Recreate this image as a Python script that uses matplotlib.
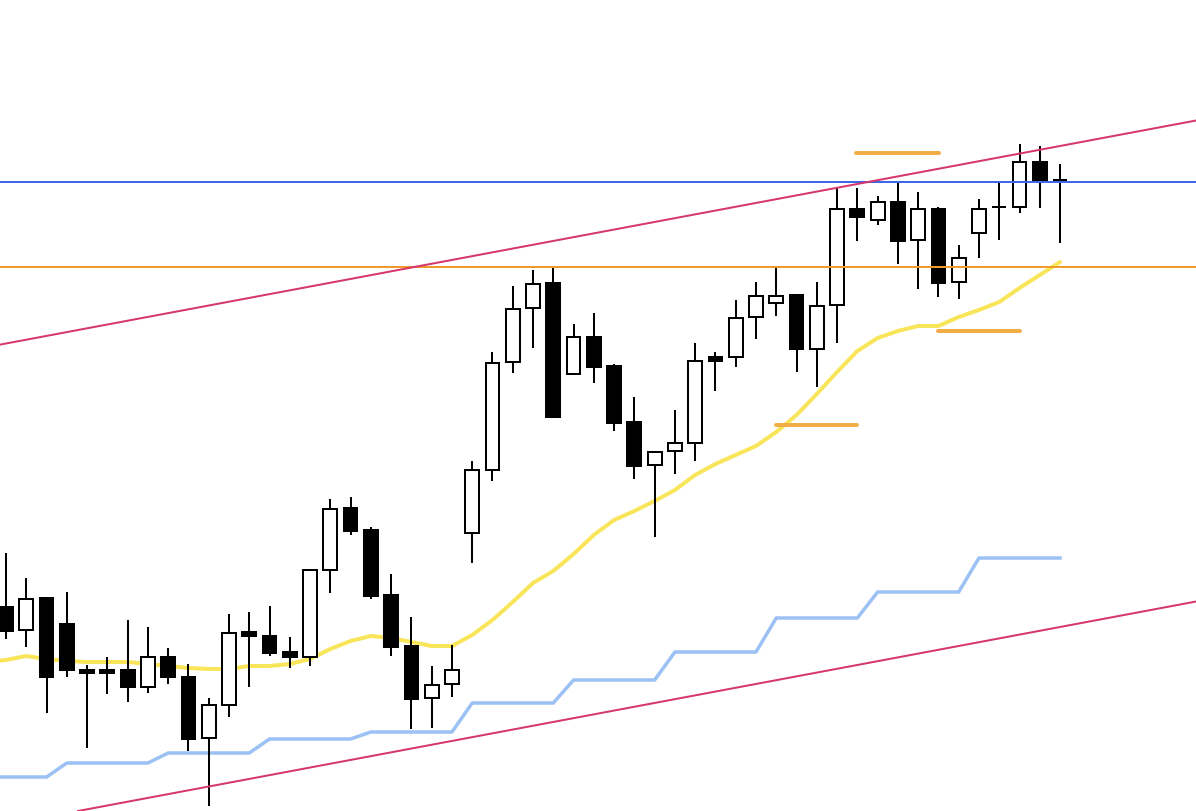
import numpy as np
import matplotlib
matplotlib.use("Agg")
import matplotlib.pyplot as plt

# candle levels (vertical axis runs downward, like a screen)
opens = [607, 630, 598, 624, 670, 670, 670, 687, 657, 677,
         738, 705, 632, 636, 652, 657, 570, 508, 530, 595,
         646, 698, 684, 533, 470, 362, 308, 283, 374, 337,
         366, 422, 465, 451, 443, 357, 357, 317, 303, 295,
         349, 305, 209, 220, 202, 240, 209, 282, 233, 207,
         207, 162, 180.5]
highs = [553, 578, 597, 592, 665, 657, 620, 627, 648, 664,
         698, 614, 612, 606, 637, 569, 499, 497, 527, 574,
         617, 666, 645, 461, 352, 286, 270, 268, 324, 313,
         364, 397, 451, 410, 343, 352, 300, 282, 268, 295,
         282, 187, 188, 196, 183, 192, 207, 245, 199, 182,
         144, 146, 164]
lows = [639, 647, 713, 677, 748, 694, 702, 693, 684, 751,
        806, 717, 687, 656, 668, 666, 593, 535, 599, 656,
        729, 728, 697, 563, 481, 373, 348, 417, 374, 383,
        431, 479, 537, 474, 461, 391, 367, 339, 316, 372,
        387, 343, 241, 225, 264, 289, 297, 299, 258, 240,
        213, 208, 243]
closes = [631, 599, 677, 670, 673, 673, 687, 657, 677, 739,
          705, 633, 636, 653, 657, 570, 509, 531, 596, 647,
          699, 685, 670, 470, 363, 309, 284, 417, 337, 367,
          423, 466, 452, 443, 361, 361, 318, 296, 296, 349,
          306, 209, 217, 202, 241, 209, 283, 258, 209, 207,
          162, 181, 180.5]

# moving average and the stepped line under price (first value is the bar just off the left edge)
ma = [663, 661, 657, 660, 662, 663, 663, 663, 665, 667, 669,
      670, 670, 667, 667, 665, 660, 650, 642, 637, 639,
      643, 647, 647, 636, 621, 603, 584, 572, 555, 536,
      521, 512, 502, 491, 476, 465, 456, 447, 433, 416,
      395, 373, 352, 339, 332, 327, 327, 318, 311, 303,
      289, 276, 263]
steps = [778, 778, 778, 778, 764, 764, 764, 764, 764, 754, 754,
         754, 754, 754, 740, 740, 740, 740, 740, 733, 733,
         733, 733, 733, 704, 704, 704, 704, 704, 681, 681,
         681, 681, 681, 653, 653, 653, 653, 653, 619, 619,
         619, 619, 619, 593, 593, 593, 593, 593, 559, 559,
         559, 559, 559]

# horizontal levels
blue_level = 182
orange_level = 267

# trendlines: two anchor points (candle index, level)
upper_trend = [(0, 344.5), (52, 147)]
lower_trend = [(0, 825.5), (52, 628)]

# short level marks: (start index, end index, level)
marks = [(41.93, 46.03, 153.5), (38.0, 42.0, 425.5), (46.0, 50.0, 331.5)]

px = 0.72  # points per pixel at dpi 100

fig = plt.figure(figsize=(11.96, 8.12), dpi=100)
ax = fig.add_axes([0, 0, 1, 1])
ax.set_xlim(-6 / 20.27, 1190 / 20.27)
ax.set_ylim(812, 0)
ax.axis("off")

x = np.arange(len(opens))
xl = np.arange(-1, len(opens))
ax.plot(xl, ma, color="#F9E55A", lw=4 * px, zorder=1, solid_capstyle="round")
ax.plot(xl, steps, color="#9CC1F4", lw=3.5 * px, zorder=1)

# candles
ax.vlines(x, np.array(highs) + 0.5, np.array(lows) + 0.5, color="black", lw=2 * px, zorder=2)
for i in range(len(opens)):
    o, c = opens[i] + 0.5, closes[i] + 0.5
    up = c <= o
    ax.bar(x[i], abs(c - o), bottom=min(o, c), width=0.68,
           color="white" if up else "black", edgecolor="black",
           linewidth=2 * px, zorder=3)

ax.axhline(blue_level + 0.5, color="#3F68E8", lw=2 * px, zorder=4)
ax.axhline(orange_level + 0.5, color="#F09A2C", lw=2 * px, zorder=4)
ax.axline(upper_trend[0], upper_trend[1], color="#D6376A", lw=2 * px, zorder=4)
ax.axline(lower_trend[0], lower_trend[1], color="#D6376A", lw=2 * px, zorder=4)

for x0, x1, lvl in marks:
    ax.plot([x0, x1], [lvl, lvl], color="#F2AE45", lw=4 * px,
            solid_capstyle="round", zorder=5)

fig.savefig("out.png", dpi=100, facecolor="white")
